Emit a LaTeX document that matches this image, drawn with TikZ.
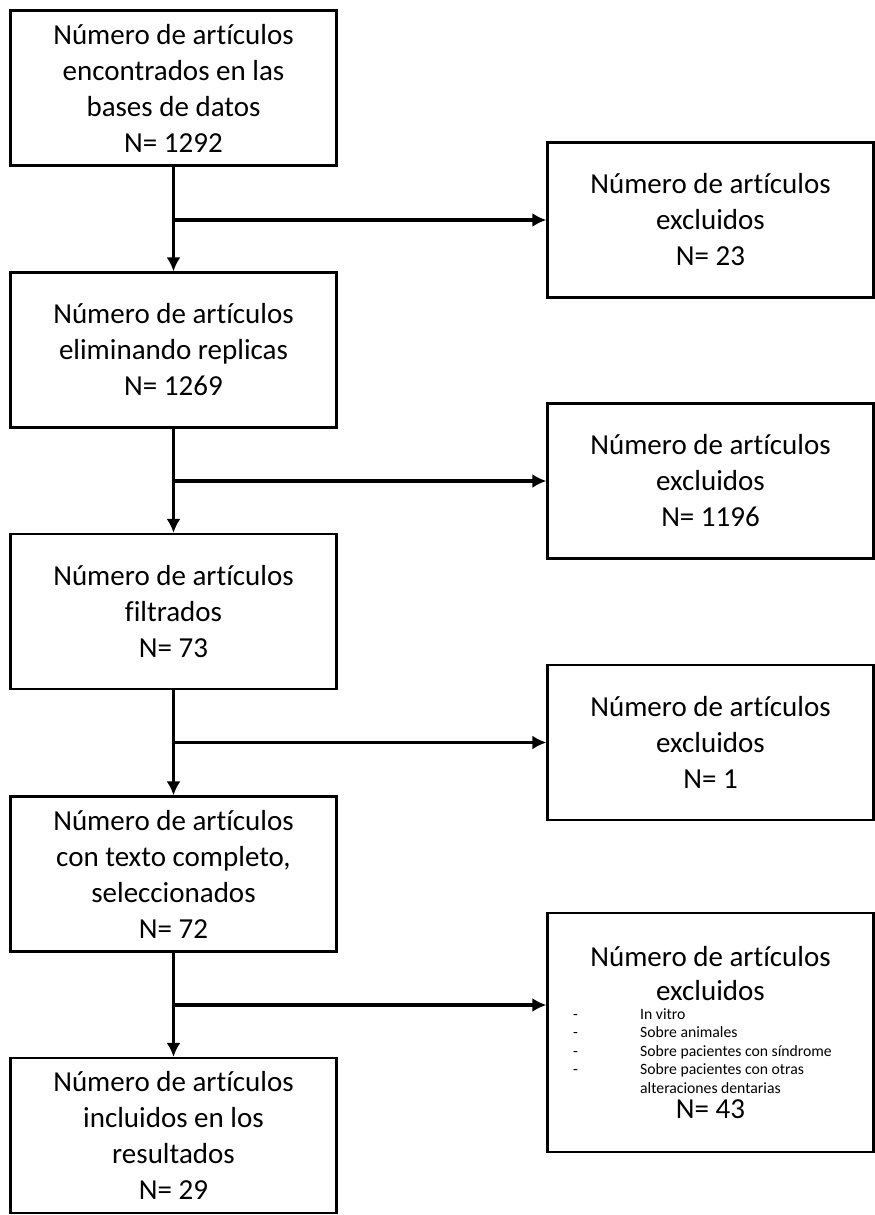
\documentclass[tikz,border=0pt]{standalone}
\usepackage{fontspec}
\setmainfont{Carlito}[Ligatures={NoCommon,NoContextual}]
\usepackage{tikz}
\usetikzlibrary{calc,shapes,arrows.meta}

\begin{document}
\begin{tikzpicture}[x=1pt,y=-1pt,
        box/.style={draw, line width=2.2pt, align=center, inner sep=0pt,
            minimum width=326pt, minimum height=155pt,
            font=\fontsize{29}{36}\selectfont},
        flow/.style={line width=3.5pt, -{Latex[length=14pt,width=14pt]}}]
        \useasboundingbox (0,0) rectangle (875,1215);
        \node[box] (n1) at (173.5,88) {Número de artículos\\encontrados en las\\bases de datos\\N= 1292};
        \node[box] (n2) at (173.5,350) {Número de artículos\\eliminando replicas\\N= 1269};
        \node[box] (n3) at (173.5,611.5) {Número de artículos\\filtrados\\N= 73};
        \node[box] (n4) at (173.5,874) {Número de artículos\\con texto completo,\\seleccionados\\N= 72};
        \node[box] (n5) at (173.5,1135.5) {Número de artículos\\incluidos en los\\resultados\\N= 29};
        \node[box] (e1) at (710.5,220) {Número de artículos\\excluidos\\N= 23};
        \node[box] (e2) at (710.5,481) {Número de artículos\\excluidos\\N= 1196};
        \node[box] (e3) at (710.5,742.5) {Número de artículos\\excluidos\\N= 1};
        \node[box, minimum height=239pt] (e4) at (710.5,1032.5) {%
            \begin{minipage}{320pt}\centering\spaceskip=0pt\xspaceskip=0pt
            \fontsize{29}{34}\selectfont
            Número de artículos\\excluidos\par\vspace{5pt}
            {\fontsize{15.7}{18.5}\selectfont\hspace*{-16pt}\begin{tabular}{@{}p{67pt}@{}l@{}}
            - & In vitro\\
            - & Sobre animales\\
            - & Sobre pacientes con síndrome\\
            - & Sobre pacientes con otras\\
              & alteraciones dentarias
            \end{tabular}\par}
            N= 43
            \end{minipage}};
        \foreach \a/\b in {n1/n2,n2/n3,n3/n4,n4/n5}
        \draw[flow] (\a) -- (\b);
        \coordinate (b1) at (n1.south |- e1.west);
        \coordinate (b2) at (n2.south |- e2.west);
        \coordinate (b3) at (n3.south |- e3.west);
        \coordinate (b4) at (173.5,1005);
        \foreach \i in {1,2,3}
        \draw[flow] (b\i) -- (e\i.west);
        \draw[flow] (b4) -- (b4 -| e4.west);
\end{tikzpicture}
\end{document}
